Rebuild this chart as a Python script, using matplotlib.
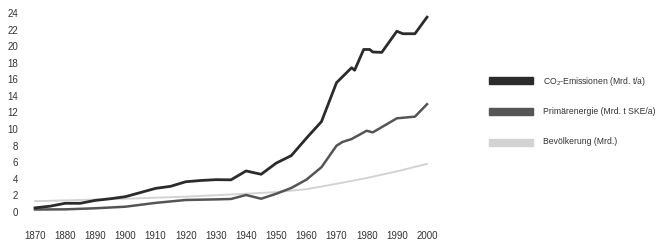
import matplotlib.pyplot as plt
from matplotlib.patches import Rectangle

# Werte
co2_jahre = [1870, 1875, 1880, 1885, 1890, 1895, 1900, 1905, 1910, 1915, 1920, 1925, 1930, 1935,
             1940, 1945, 1950, 1955, 1960, 1965, 1970, 1975, 1976, 1979, 1981, 1982, 1985, 1990,
             1992, 1996, 2000]
co2 = [0.5, 0.7, 1.05, 1.05, 1.4, 1.6, 1.85, 2.35, 2.85, 3.1, 3.65, 3.8, 3.9, 3.88,
       4.95, 4.55, 5.9, 6.8, 8.9, 10.9, 15.6, 17.4, 17.1, 19.6, 19.6, 19.3, 19.25, 21.8,
       21.5, 21.5, 23.5]

energie_jahre = [1870, 1880, 1890, 1900, 1910, 1920, 1930, 1935, 1940, 1945, 1950, 1955, 1960,
                 1965, 1970, 1972, 1975, 1980, 1982, 1990, 1996, 2000]
energie = [0.3, 0.32, 0.45, 0.64, 1.1, 1.45, 1.52, 1.57, 2.05, 1.6, 2.2, 2.9, 3.9,
           5.4, 8.0, 8.45, 8.8, 9.8, 9.6, 11.3, 11.5, 13.0]

bev_jahre = [1870, 1900, 1920, 1940, 1950, 1960, 1970, 1980, 1990, 2000]
bevoelkerung = [1.3, 1.6, 1.85, 2.2, 2.4, 2.75, 3.4, 4.1, 4.9, 5.8]

x_ticks = list(range(1870, 2001, 10))
y_ticks = list(range(0, 25, 2))

legende = ['CO$_2$-Emissionen (Mrd. t/a)', 'Primärenergie (Mrd. t SKE/a)', 'Bevölkerung (Mrd.)']
farben = ['#2b2b2b', '#555555', '#d3d3d3']

plt.rcParams['font.family'] = ['Liberation Sans', 'DejaVu Sans']
plt.rcParams['mathtext.fontset'] = 'custom'
plt.rcParams['mathtext.rm'] = 'Liberation Sans'

fig = plt.figure(figsize=(6.58, 2.45), dpi=100)
ax = fig.add_axes([35 / 658, 33 / 245, 392 / 658, 199 / 245])

ax.plot(bev_jahre, bevoelkerung, color=farben[2], linewidth=1.4, clip_on=False)
ax.plot(energie_jahre, energie, color=farben[1], linewidth=1.8, clip_on=False)
ax.plot(co2_jahre, co2, color=farben[0], linewidth=2.0, clip_on=False)

ax.set_xlim(1870, 2000)
ax.set_ylim(0, 24)
ax.set_xticks(x_ticks)
ax.set_yticks(y_ticks)
ax.tick_params(length=0, labelsize=7, colors='#333333')
ax.tick_params(axis='x', pad=14)
ax.tick_params(axis='y', pad=12)
for s in ax.spines.values():
    s.set_visible(False)

# Legende rechts
for i, (txt, c) in enumerate(zip(legende, farben)):
    y = (245 - (81 + 30.5 * i)) / 245
    fig.patches.append(Rectangle((489 / 658, y - 3.5 / 245), 44 / 658, 7 / 245,
                                 transform=fig.transFigure, color=c))
    fig.text(543 / 658, y, txt, fontsize=6.2, color='#333333', va='center')

fig.savefig('out.png', dpi=100)
